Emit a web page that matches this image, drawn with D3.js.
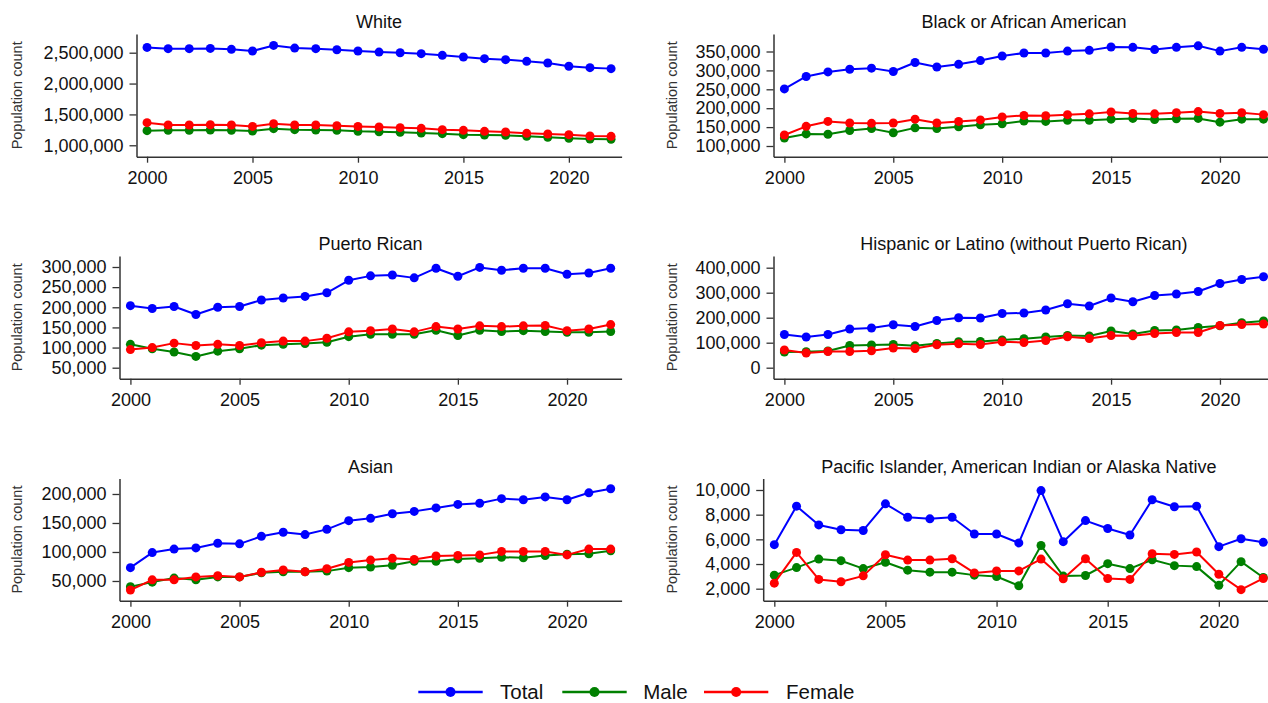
<!DOCTYPE html>
<html>
<head>
<meta charset="utf-8">
<script src="https://cdn.jsdelivr.net/npm/d3@7"></script>
<style>
  html, body { margin: 0; padding: 0; background: #ffffff; }
  svg { display: block; font-family: "Liberation Sans", Arial, sans-serif; }
</style>
</head>
<body>
<svg id="chart" width="1268" height="703"></svg>
<script>
// ---------------- DATA ----------------
const years = [2000,2001,2002,2003,2004,2005,2006,2007,2008,2009,2010,2011,2012,2013,2014,2015,2016,2017,2018,2019,2020,2021,2022];
const xTickValues = [2000, 2005, 2010, 2015, 2020];
const seriesNames = ["Total", "Male", "Female"];

const panelTitles = [
  "White",
  "Black or African American",
  "Puerto Rican",
  "Hispanic or Latino (without Puerto Rican)",
  "Asian",
  "Pacific Islander, American Indian or Alaska Native"
];

const whiteTotal  = [2586000,2565000,2565000,2570000,2554000,2527000,2618000,2575000,2565000,2548000,2527000,2510000,2500000,2484000,2457000,2430000,2403000,2387000,2360000,2333000,2280000,2258000,2242000];
const whiteMale   = [1237000,1242000,1242000,1247000,1242000,1231000,1269000,1253000,1247000,1242000,1226000,1220000,1210000,1199000,1188000,1172000,1167000,1161000,1145000,1129000,1113000,1102000,1097000];
const whiteFemale = [1366000,1328000,1328000,1333000,1328000,1306000,1350000,1328000,1328000,1317000,1306000,1296000,1285000,1274000,1253000,1242000,1226000,1215000,1194000,1183000,1172000,1150000,1145000];

const blackTotal  = [251000,284000,296000,303000,306000,297000,321000,309000,316000,326000,338000,346000,346000,351000,353000,362000,361000,355000,361000,365000,351000,361000,356000];
const blackMale   = [121000,132000,131000,141000,146000,135000,148000,146000,151000,156000,159000,166000,165000,168000,168000,171000,173000,170000,172000,173000,163000,171000,171000];
const blackFemale = [129000,152000,165000,161000,160000,161000,171000,161000,165000,169000,177000,181000,180000,183000,185000,190000,186000,185000,188000,191000,186000,188000,183000];

const prTotal  = [204000,197000,202000,182000,200000,202000,218000,223000,227000,236000,267000,278000,280000,273000,297000,277000,299000,292000,297000,297000,282000,285000,297000];
const prMale   = [108000,97000,89000,78000,91000,97000,106000,108000,110000,113000,127000,133000,133000,133000,143000,130000,143000,140000,142000,140000,138000,138000,140000];
const prFemale = [95000,100000,111000,105000,108000,105000,112000,116000,116000,123000,139000,142000,146000,139000,152000,146000,154000,152000,154000,155000,142000,146000,157000];

const hispTotal  = [133000,123000,133000,155000,159000,172000,165000,189000,200000,199000,217000,219000,231000,256000,247000,279000,264000,289000,295000,305000,337000,353000,364000];
const hispMale   = [63000,64000,67000,89000,91000,93000,88000,97000,104000,105000,111000,116000,123000,129000,127000,147000,135000,149000,151000,161000,168000,180000,187000];
const hispFemale = [71000,59000,65000,65000,68000,79000,77000,92000,96000,93000,104000,101000,109000,124000,117000,129000,128000,137000,141000,141000,169000,173000,175000];

const asianTotal  = [73000,99000,105000,107000,115000,114000,127000,134000,130000,139000,154000,158000,166000,170000,176000,182000,184000,192000,190000,195000,190000,202000,209000];
const asianMale   = [40000,48000,55000,52000,57000,57000,64000,66000,66000,67000,73000,74000,77000,84000,84000,88000,89000,91000,90000,94000,96000,97000,102000];
const asianFemale = [34500,52000,52000,57000,59000,57000,65000,69000,66000,71000,82000,86000,89000,87000,93000,94000,95000,101000,101000,101000,95000,105000,105000];

const pacTotal  = [5570,8690,7170,6780,6720,8880,7790,7660,7790,6430,6430,5710,9950,5810,7520,6880,6350,9210,8640,8690,5410,6050,5760];
const pacMale   = [3100,3710,4400,4270,3630,4140,3500,3340,3340,3100,2990,2240,5500,3020,3070,4030,3630,4350,3870,3790,2270,4190,2910];
const pacFemale = [2450,4940,2750,2560,3040,4750,4320,4320,4430,3280,3440,3440,4400,2800,4430,2830,2750,4830,4780,4970,3170,1920,2830];

const yTicksWhite = [1000000, 1500000, 2000000, 2500000];
const yTicksBlack = [100000, 150000, 200000, 250000, 300000, 350000];
const yTicksPR    = [50000, 100000, 150000, 200000, 250000, 300000];
const yTicksHisp  = [0, 100000, 200000, 300000, 400000];
const yTicksAsian = [50000, 100000, 150000, 200000];
const yTicksPac   = [2000, 4000, 6000, 8000, 10000];

// ---------------- LAYOUT / STYLE ----------------
const colors = { Total: "#0000ff", Male: "#008000", Female: "#ff0000" };
const colRight = [621.6, 1274.4];
const colYTitleX = [17, 672];
const rowTop = [34, 256, 478.5];
const rowBottom = [156.7, 378.7, 600.7];
const titleY = [27.5, 250, 472.5];

const panels = [
  { title: panelTitles[0], col: 0, row: 0, axisX: 136.5, yDomain: [815000, 2803000], ticks: yTicksWhite, series: [whiteTotal, whiteMale, whiteFemale] },
  { title: panelTitles[1], col: 1, row: 0, axisX: 773.5, yDomain: [71700, 396300], ticks: yTicksBlack, series: [blackTotal, blackMale, blackFemale] },
  { title: panelTitles[2], col: 0, row: 1, axisX: 119.5, yDomain: [22700, 327300], ticks: yTicksPR, series: [prTotal, prMale, prFemale] },
  { title: panelTitles[3], col: 1, row: 1, axisX: 773.5, yDomain: [-44000, 446800], ticks: yTicksHisp, series: [hispTotal, hispMale, hispFemale] },
  { title: panelTitles[4], col: 0, row: 2, axisX: 119.5, yDomain: [16000, 226700], ticks: yTicksAsian, series: [asianTotal, asianMale, asianFemale] },
  { title: panelTitles[5], col: 1, row: 2, axisX: 763.2, yDomain: [1027, 10932], ticks: yTicksPac, series: [pacTotal, pacMale, pacFemale] }
];

const svg = d3.select("#chart");
const fmt = d3.format(",");
const axisColor = "#333333";

panels.forEach(p => {
  const right = colRight[p.col];
  const top = rowTop[p.row], bottom = rowBottom[p.row];
  const x = d3.scaleLinear().domain([1999.5, 2022.5]).range([p.axisX, right]);
  const y = d3.scaleLinear().domain(p.yDomain).range([bottom, top]);

  const g = svg.append("g");

  g.append("text")
    .attr("x", (p.axisX + right) / 2)
    .attr("y", titleY[p.row])
    .attr("text-anchor", "middle")
    .attr("font-size", "18px")
    .attr("fill", "#111")
    .text(p.title);

  g.append("text")
    .attr("transform", `translate(${colYTitleX[p.col] + 5},${(top + bottom) / 2}) rotate(-90)`)
    .attr("text-anchor", "middle")
    .attr("font-size", "14.5px")
    .attr("fill", "#333")
    .text("Population count");

  const ya = g.append("g")
    .attr("transform", `translate(${p.axisX},0)`)
    .call(d3.axisLeft(y).tickValues(p.ticks).tickFormat(fmt).tickSize(7).tickSizeOuter(0).tickPadding(6));
  ya.select(".domain").attr("stroke", axisColor).attr("stroke-width", 1.5);
  ya.selectAll(".tick line").attr("stroke", axisColor).attr("stroke-width", 1.3);
  ya.selectAll(".tick text").attr("font-size", "18px").attr("fill", "#111").attr("font-family", "Liberation Sans, Arial, sans-serif");

  const xa = g.append("g")
    .attr("transform", `translate(0,${bottom})`)
    .call(d3.axisBottom(x).tickValues(xTickValues).tickFormat(d3.format("d")).tickSize(6).tickSizeOuter(0).tickPadding(9));
  xa.select(".domain").attr("stroke", axisColor).attr("stroke-width", 1.5);
  xa.selectAll(".tick line").attr("stroke", axisColor).attr("stroke-width", 1.3);
  xa.selectAll(".tick text").attr("font-size", "18px").attr("fill", "#111").attr("font-family", "Liberation Sans, Arial, sans-serif");

  const line = d3.line().x((d, i) => x(years[i])).y(d => y(d));
  p.series.forEach((vals, si) => {
    const c = colors[seriesNames[si]];
    g.append("path")
      .datum(vals)
      .attr("d", line)
      .attr("fill", "none")
      .attr("stroke", c)
      .attr("stroke-width", 2)
      .attr("stroke-linejoin", "round");
    g.selectAll(null)
      .data(vals)
      .enter()
      .append("circle")
      .attr("cx", (d, i) => x(years[i]))
      .attr("cy", d => y(d))
      .attr("r", 4.5)
      .attr("fill", c);
  });
});

// ---------------- LEGEND ----------------
const legendItems = [
  { name: "Total", x1: 418.3, x2: 482.7, tx: 500 },
  { name: "Male", x1: 562.3, x2: 626.7, tx: 643.3 },
  { name: "Female", x1: 704, x2: 768.3, tx: 786 }
];
const legY = 692;
const lg = svg.append("g");
legendItems.forEach(it => {
  const c = colors[it.name];
  lg.append("line").attr("x1", it.x1).attr("x2", it.x2).attr("y1", legY).attr("y2", legY)
    .attr("stroke", c).attr("stroke-width", 2.3);
  lg.append("circle").attr("cx", (it.x1 + it.x2) / 2).attr("cy", legY).attr("r", 5).attr("fill", c);
  lg.append("text").attr("x", it.tx).attr("y", legY + 7).attr("font-size", "20.5px").attr("fill", "#111").text(it.name);
});
</script>
</body>
</html>
